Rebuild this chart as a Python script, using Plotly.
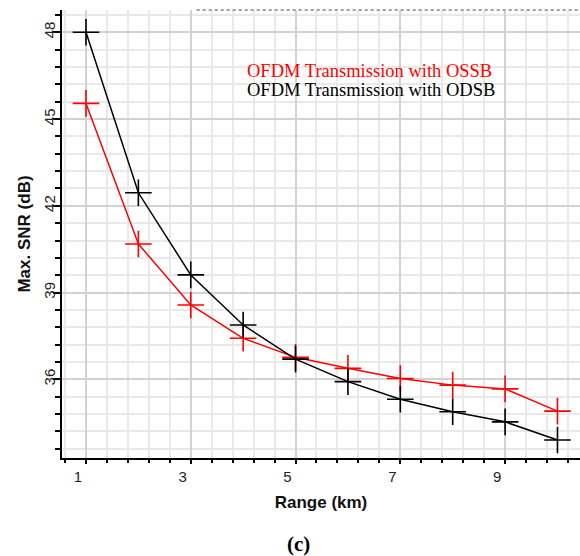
import plotly.graph_objects as go

range_km = [1, 2, 3, 4, 5, 6, 7, 8, 9, 10]
snr_ossb = [45.54, 40.68, 38.57, 37.42, 36.76, 36.38, 36.03, 35.80, 35.67, 34.90]
snr_odsb = [48.00, 42.45, 39.61, 37.88, 36.70, 35.92, 35.31, 34.88, 34.53, 33.90]
series_names = ["OFDM Transmission with OSSB", "OFDM Transmission with ODSB"]
series_colors = ["#ff0000", "#000000"]
x_ticks = [1, 3, 5, 7, 9]
y_ticks = [36, 39, 42, 45, 48]

fig = go.Figure()
for ys, name, col in [(snr_ossb, series_names[0], series_colors[0]),
                      (snr_odsb, series_names[1], series_colors[1])]:
    fig.add_trace(go.Scatter(
        x=range_km, y=ys, mode="lines+markers", name=name,
        line=dict(color=col, width=1.5),
        marker=dict(symbol="cross-thin-open", size=19, color=col,
                    line=dict(color=col, width=1.6)),
        showlegend=False, cliponaxis=False))

tick_font = dict(family="Liberation Sans, Arial, sans-serif", size=15, color="#222")
title_font = dict(family="Liberation Sans, Arial, sans-serif", size=17, color="#111")

fig.update_xaxes(
    range=[0.542, 10.43], tickvals=x_ticks, ticktext=[str(v) for v in x_ticks],
    showgrid=True, gridcolor="#d2d2d2", gridwidth=2,
    minor=dict(dtick=0.4, tick0=1, showgrid=True, gridcolor="#e9e9e9", gridwidth=2,
               ticks="outside", ticklen=3, tickcolor="black", tickwidth=2),
    ticks="outside", ticklen=4, tickcolor="black", tickwidth=2,
    showline=True, linecolor="black", linewidth=2,
    ticklabelshift=-8, tickfont=tick_font,
    title=dict(text="<b>Range (km)</b>", font=title_font, standoff=12),
    zeroline=False)
fig.update_yaxes(
    range=[33.28, 48.77], tickvals=y_ticks, ticktext=[str(v) for v in y_ticks],
    tickangle=-90,
    showgrid=True, gridcolor="#d2d2d2", gridwidth=2,
    minor=dict(dtick=0.6, tick0=36, showgrid=True, gridcolor="#e9e9e9", gridwidth=2,
               ticks="outside", ticklen=5, tickcolor="black", tickwidth=2),
    ticks="outside", ticklen=7, tickcolor="black", tickwidth=2,
    showline=True, linecolor="black", linewidth=2,
    ticklabelstandoff=-8,
    tickfont=tick_font,
    title=dict(text="<b>Max. SNR (dB)</b>", font=title_font, standoff=6),
    zeroline=False)

# legend box
fig.add_shape(type="rect", xref="paper", yref="paper", x0=0.3436, x1=0.855,
              y0=0.759, y1=0.904, fillcolor="white", line=dict(width=0), layer="between")
# dotted top border
fig.add_shape(type="line", xref="paper", yref="paper", x0=0.26, x1=1, y0=1, y1=1,
              line=dict(color="#a0a0a0", width=2, dash="dot"), layer="above")

leg_font = "Liberation Serif"
fig.add_annotation(xref="paper", yref="paper", x=0.353, y=0.864, xanchor="left", yanchor="middle",
                   text=series_names[0], showarrow=False,
                   font=dict(family=leg_font, size=18.5, color=series_colors[0]))
fig.add_annotation(xref="paper", yref="paper", x=0.353, y=0.821, xanchor="left", yanchor="middle",
                   text=series_names[1], showarrow=False,
                   font=dict(family=leg_font, size=18.5, color=series_colors[1]))
fig.add_annotation(xref="paper", yref="paper", x=0.457, y=-0.193, xanchor="center", yanchor="middle",
                   text="<b>(c)</b>", showarrow=False,
                   font=dict(family=leg_font, size=21, color="black"))

fig.update_layout(
    width=580, height=556,
    margin=dict(l=62, r=0, t=10, b=98),
    paper_bgcolor="white", plot_bgcolor="white",
)
fig.write_html("out.html")
